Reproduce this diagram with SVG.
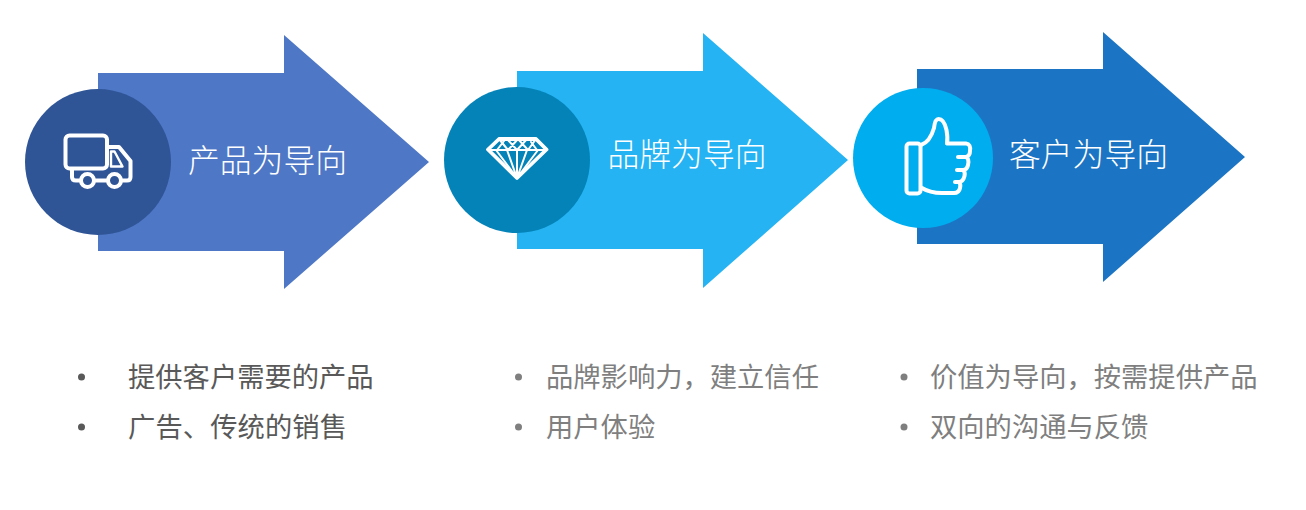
<svg xmlns="http://www.w3.org/2000/svg" width="1306" height="510" viewBox="0 0 1306 510">
<style>
text{font-family:"Noto Sans CJK SC","Liberation Sans",sans-serif}
.t{font-size:31.800px;fill:#fff;font-weight:300}
.b{font-size:27.300px}
.d{fill:#595959}.g{fill:#7f7f7f}
.i{fill:none;stroke:#fff;stroke-linejoin:round;stroke-linecap:round}
</style>
<rect width="1306" height="510" fill="#fff"/>
<g id="node-product">
<path d="M98 73H284V35L429 162L284 289V251H98Z" fill="#4e77c6"/>
<circle cx="98" cy="162" r="73" fill="#2f5597"/>
<g class="i" stroke-width="4">
<rect x="65.500" y="135.500" width="41.500" height="33" rx="4"/>
<path d="M72 169V177Q72 180.500 76 180.500H80M95 180.500H107M122 180.500H127Q130.500 180.500 130.500 177V161L119 147H108"/>
<circle cx="87.500" cy="180.500" r="6.500"/><circle cx="114.500" cy="180.500" r="6.500"/>
<path d="M111 151.500H114.500L122.500 166.500H111Z" stroke-width="2.400"/>
</g>
<text class="t" x="188" y="172">产品为导向</text>
</g>
<g id="node-brand">
<path d="M517 71H703V33L848 160L703 288V249H517Z" fill="#25b3f3"/>
<circle cx="517" cy="160" r="73" fill="#0483b8"/>
<g class="i" stroke-width="3.800">
<path d="M499 139H536L546.500 149.500L517 178L488 149.500Z"/>
</g>
<g class="i" stroke-width="2">
<path d="M488.500 150H546M499 139L508 150L518 139L528 150L536 139M507 139L517 150L527 139M497 150L504 141M537 150L531 142M507 150L517 178L527 150M496 150L517 178L538 150M517 150V178"/>
</g>
<text class="t" x="607.500" y="166">品牌为导向</text>
</g>
<g id="node-customer">
<path d="M917 69H1103V32L1245 157L1103 282V244H917Z" fill="#1b75c4"/>
<circle cx="923" cy="158" r="70" fill="#00adef"/>
<g class="i" stroke-width="4">
<rect x="906.500" y="143.500" width="14" height="50" rx="3"/>
<path d="M921 145Q930 142 934 128Q935 119 938.500 119Q944 119 946.500 130Q948 138 947 143.500H966Q971 144 970 151Q970 156 966 157H958M966 157Q969.500 159 968 165Q967 170 963 170H957M963 170Q965.500 172 964.500 176Q963 182 959 182H955M959 182Q961 184 960 188Q959 193 954 193H942Q930 193 921 187.500"/>
</g>
<text class="t" x="1009" y="166">客户为导向</text>
</g>
<g id="list-product">
<circle class="d" cx="81.500" cy="377" r="3.500"/><circle class="d" cx="81.500" cy="427" r="3.500"/>
<text class="b d" x="128" y="387">提供客户需要的产品</text>
<text class="b d" x="128" y="437" textLength="219">广告、传统的销售</text>
</g>
<g id="list-brand">
<circle class="g" cx="518.500" cy="377" r="3.500"/><circle class="g" cx="518.500" cy="427" r="3.500"/>
<text class="b g" x="546" y="387">品牌影响力，建立信任</text>
<text class="b g" x="546" y="437">用户体验</text>
</g>
<g id="list-customer">
<circle class="g" cx="904" cy="377" r="3.500"/><circle class="g" cx="904" cy="427" r="3.500"/>
<text class="b g" x="930" y="387">价值为导向，按需提供产品</text>
<text class="b g" x="930" y="437">双向的沟通与反馈</text>
</g>
<g id="connectors"/>
</svg>
